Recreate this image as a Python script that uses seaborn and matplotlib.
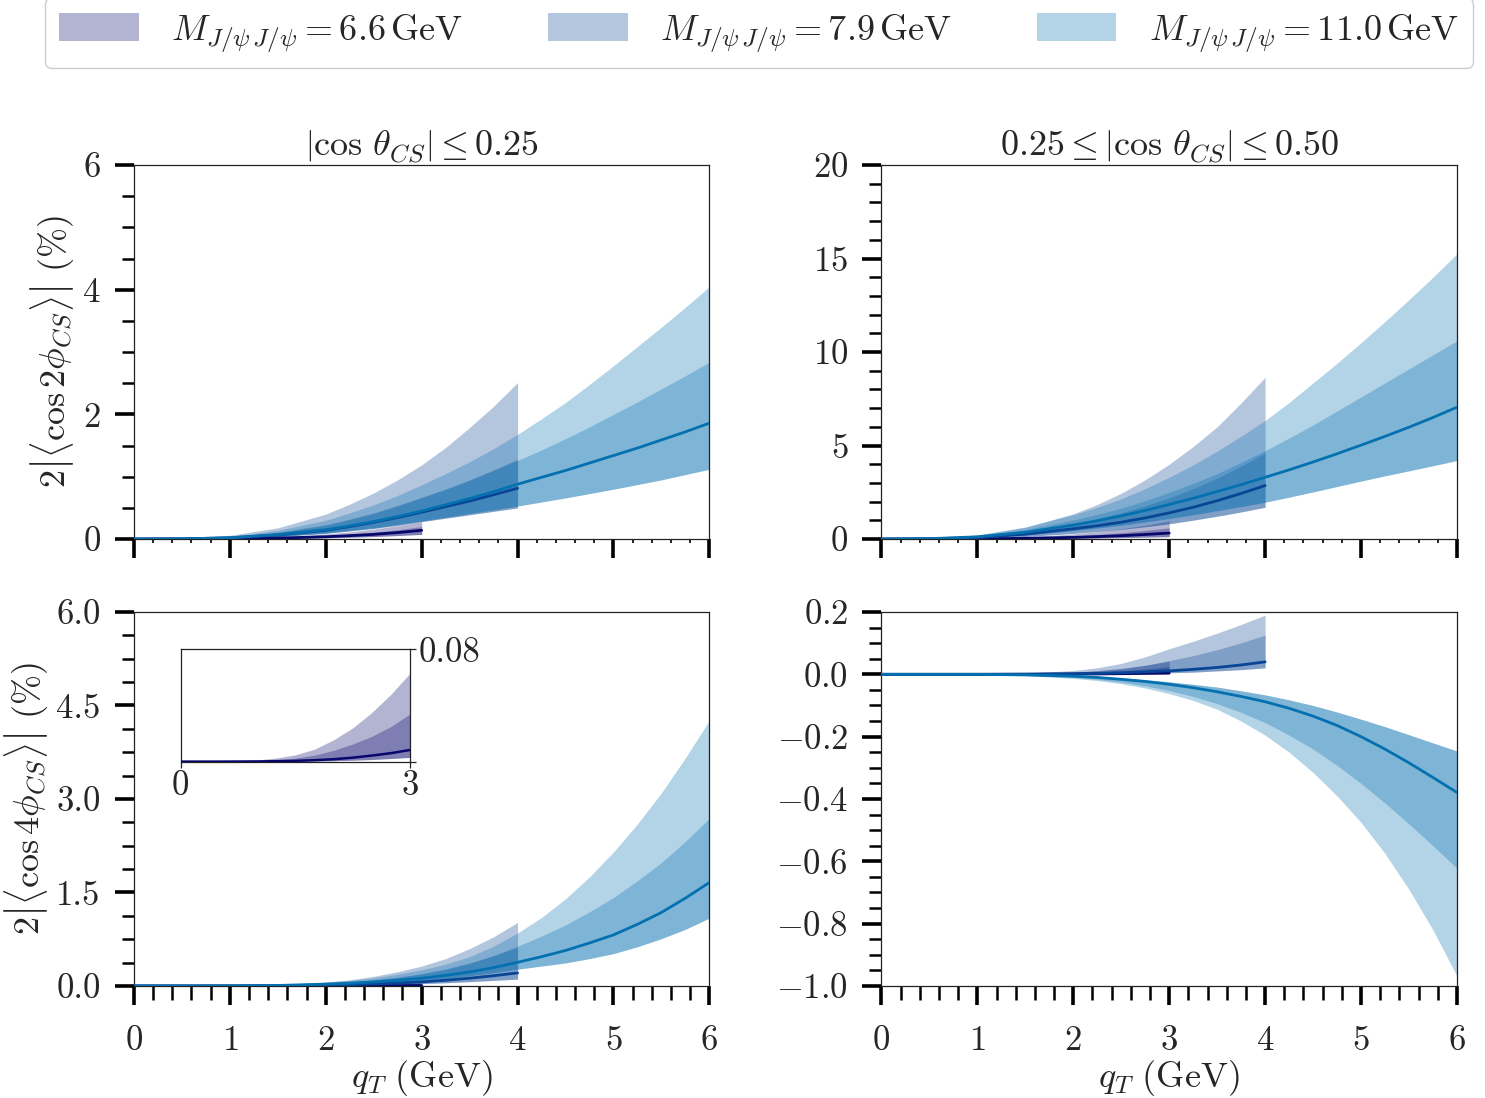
import matplotlib
matplotlib.use("Agg")
import matplotlib.pyplot as plt
from matplotlib.patches import Patch
from matplotlib.ticker import MultipleLocator, FixedLocator, FormatStrFormatter, FuncFormatter
import seaborn as sns

# ---------------------------------------------------------------------------
# q_T grids (GeV) for the three invariant masses
QT_66 = [0.0, 0.5, 1.0, 1.25, 1.5, 1.75, 2.0, 2.25, 2.5, 2.75, 3.0]
QT_79 = [0.0, 0.5, 1.0, 1.5, 2.0, 2.25, 2.5, 2.75, 3.0, 3.25, 3.5, 3.75, 4.0]
QT_110 = [0.0, 0.5, 1.0, 1.5, 2.0, 2.25, 2.5, 2.75, 3.0, 3.25, 3.5, 3.75, 4.0,
          4.25, 4.5, 4.75, 5.0, 5.25, 5.5, 5.75, 6.0]

MASS_LABELS = ["6.6", "7.9", "11.0"]

# Each table: rows = [outer low, inner low, central, inner high, outer high]  (in %)

# 2|<cos 2phi>|, |cos theta| <= 0.25
C2_LOW_66 = [
    [0, 0.0005, 0.003, 0.006, 0.009, 0.014, 0.020, 0.029, 0.040, 0.056, 0.075],
    [0, 0.0005, 0.003, 0.006, 0.009, 0.014, 0.020, 0.029, 0.040, 0.056, 0.075],
    [0, 0.001, 0.006, 0.011, 0.017, 0.026, 0.037, 0.054, 0.075, 0.104, 0.14],
    [0, 0.0015, 0.009, 0.016, 0.025, 0.038, 0.055, 0.080, 0.11, 0.15, 0.20],
    [0, 0.002, 0.012, 0.022, 0.035, 0.055, 0.080, 0.115, 0.16, 0.215, 0.28],
]
C2_LOW_79 = [
    [0, 0.002, 0.012, 0.04, 0.09, 0.13, 0.17, 0.22, 0.28, 0.335, 0.39, 0.445, 0.50],
    [0, 0.002, 0.012, 0.04, 0.09, 0.13, 0.17, 0.22, 0.28, 0.335, 0.39, 0.445, 0.50],
    [0, 0.003, 0.020, 0.065, 0.14, 0.20, 0.27, 0.345, 0.43, 0.52, 0.61, 0.71, 0.815],
    [0, 0.005, 0.035, 0.11, 0.23, 0.32, 0.42, 0.54, 0.67, 0.80, 0.95, 1.11, 1.28],
    [0, 0.008, 0.060, 0.18, 0.40, 0.56, 0.74, 0.95, 1.19, 1.47, 1.79, 2.13, 2.51],
]
C2_LOW_110 = [
    [0, 0.002, 0.013, 0.045, 0.10, 0.14, 0.18, 0.235, 0.29, 0.35, 0.41, 0.47, 0.53,
     0.595, 0.66, 0.73, 0.80, 0.875, 0.95, 1.035, 1.12],
    [0, 0.002, 0.013, 0.045, 0.10, 0.14, 0.18, 0.235, 0.29, 0.35, 0.41, 0.47, 0.53,
     0.595, 0.66, 0.73, 0.80, 0.875, 0.95, 1.035, 1.12],
    [0, 0.003, 0.020, 0.070, 0.15, 0.21, 0.28, 0.36, 0.45, 0.55, 0.65, 0.76, 0.88,
     0.99, 1.10, 1.22, 1.34, 1.46, 1.59, 1.72, 1.86],
    [0, 0.004, 0.030, 0.10, 0.22, 0.31, 0.41, 0.53, 0.66, 0.80, 0.94, 1.10, 1.26,
     1.43, 1.61, 1.80, 2.00, 2.20, 2.41, 2.62, 2.84],
    [0, 0.006, 0.040, 0.14, 0.30, 0.42, 0.55, 0.70, 0.87, 1.05, 1.24, 1.45, 1.68,
     1.93, 2.19, 2.48, 2.78, 3.09, 3.40, 3.72, 4.05],
]

# 2|<cos 2phi>|, 0.25 <= |cos theta| <= 0.50
C2_HIGH_66 = [
    [0, 0.001, 0.006, 0.011, 0.018, 0.028, 0.040, 0.056, 0.075, 0.10, 0.13],
    [0, 0.001, 0.006, 0.011, 0.018, 0.028, 0.040, 0.056, 0.075, 0.10, 0.13],
    [0, 0.002, 0.014, 0.025, 0.040, 0.062, 0.090, 0.13, 0.18, 0.245, 0.32],
    [0, 0.003, 0.025, 0.047, 0.075, 0.115, 0.17, 0.245, 0.34, 0.46, 0.60],
    [0, 0.005, 0.040, 0.075, 0.12, 0.185, 0.27, 0.39, 0.55, 0.74, 0.97],
]
C2_HIGH_79 = [
    [0, 0.005, 0.04, 0.14, 0.30, 0.40, 0.52, 0.66, 0.82, 1.01, 1.22, 1.45, 1.70],
    [0, 0.005, 0.04, 0.14, 0.30, 0.40, 0.52, 0.66, 0.82, 1.01, 1.22, 1.45, 1.70],
    [0, 0.01, 0.08, 0.26, 0.55, 0.71, 0.90, 1.13, 1.40, 1.70, 2.05, 2.44, 2.86],
    [0, 0.02, 0.12, 0.38, 0.80, 1.08, 1.40, 1.78, 2.20, 2.70, 3.25, 3.90, 4.60],
    [0, 0.03, 0.20, 0.62, 1.35, 1.85, 2.45, 3.17, 4.00, 4.95, 6.00, 7.28, 8.65],
]
C2_HIGH_110 = [
    [0, 0.01, 0.07, 0.22, 0.45, 0.59, 0.74, 0.91, 1.10, 1.30, 1.52, 1.74, 1.97,
     2.24, 2.52, 2.81, 3.10, 3.38, 3.65, 3.92, 4.20],
    [0, 0.01, 0.07, 0.22, 0.45, 0.59, 0.74, 0.91, 1.10, 1.30, 1.52, 1.74, 1.97,
     2.24, 2.52, 2.81, 3.10, 3.38, 3.65, 3.92, 4.20],
    [0, 0.02, 0.12, 0.36, 0.75, 0.98, 1.24, 1.53, 1.85, 2.18, 2.54, 2.91, 3.30,
     3.70, 4.12, 4.56, 5.02, 5.49, 5.98, 6.50, 7.05],
    [0, 0.03, 0.17, 0.50, 1.02, 1.32, 1.65, 2.05, 2.50, 2.98, 3.50, 4.10, 4.73,
     5.40, 6.10, 6.85, 7.60, 8.35, 9.10, 9.85, 10.6],
    [0, 0.04, 0.22, 0.65, 1.30, 1.70, 2.15, 2.70, 3.30, 3.97, 4.70, 5.50, 6.34,
     7.30, 8.35, 9.40, 10.5, 11.63, 12.8, 14.0, 15.25],
]

# 2|<cos 4phi>|, |cos theta| <= 0.25
C4_LOW_66 = [
    [0, 0, 0, 0.0001, 0.0002, 0.0004, 0.0006, 0.0010, 0.0015, 0.0022, 0.003],
    [0, 0, 0, 0.0001, 0.0002, 0.0004, 0.0006, 0.0010, 0.0015, 0.0022, 0.003],
    [0, 0, 0.0001, 0.0003, 0.0005, 0.0010, 0.0017, 0.0028, 0.0043, 0.0060, 0.0083],
    [0, 0, 0.0006, 0.0013, 0.0025, 0.0046, 0.0080, 0.0125, 0.018, 0.025, 0.034],
    [0, 0.0001, 0.0012, 0.0025, 0.0048, 0.0088, 0.0155, 0.024, 0.035, 0.048, 0.063],
]
C4_LOW_79 = [
    [0, 0, 0, 0.002, 0.007, 0.011, 0.018, 0.027, 0.038, 0.052, 0.070, 0.090, 0.11],
    [0, 0, 0, 0.002, 0.007, 0.011, 0.018, 0.027, 0.038, 0.052, 0.070, 0.090, 0.11],
    [0, 0, 0.001, 0.004, 0.013, 0.021, 0.032, 0.047, 0.066, 0.092, 0.125, 0.165, 0.21],
    [0, 0, 0.003, 0.012, 0.04, 0.063, 0.095, 0.14, 0.20, 0.275, 0.37, 0.485, 0.62],
    [0, 0, 0.004, 0.02, 0.064, 0.10, 0.155, 0.23, 0.32, 0.44, 0.60, 0.79, 1.02],
]
C4_LOW_110 = [
    [0, 0, 0.001, 0.006, 0.02, 0.03, 0.045, 0.065, 0.09, 0.12, 0.165, 0.215, 0.27,
     0.32, 0.37, 0.44, 0.52, 0.63, 0.76, 0.91, 1.09],
    [0, 0, 0.001, 0.006, 0.02, 0.03, 0.045, 0.065, 0.09, 0.12, 0.165, 0.215, 0.27,
     0.32, 0.37, 0.44, 0.52, 0.63, 0.76, 0.91, 1.09],
    [0, 0, 0.002, 0.009, 0.03, 0.045, 0.065, 0.09, 0.125, 0.17, 0.225, 0.295, 0.38,
     0.47, 0.57, 0.69, 0.82, 0.99, 1.18, 1.41, 1.66],
    [0, 0, 0.004, 0.016, 0.045, 0.068, 0.10, 0.14, 0.19, 0.26, 0.36, 0.49, 0.64,
     0.80, 0.98, 1.19, 1.42, 1.69, 1.98, 2.32, 2.69],
    [0, 0, 0.005, 0.022, 0.06, 0.09, 0.13, 0.19, 0.26, 0.35, 0.47, 0.64, 0.85,
     1.10, 1.40, 1.75, 2.15, 2.60, 3.10, 3.66, 4.26],
]

# 2<cos 4phi>, 0.25 <= |cos theta| <= 0.50
C4_HIGH_66 = [
    [0, 0, 0, 0, 0.0001, 0.0002, 0.0003, 0.0005, 0.0008, 0.0011, 0.0015],
    [0, 0, 0, 0, 0.0001, 0.0002, 0.0003, 0.0005, 0.0008, 0.0011, 0.0015],
    [0, 0, 0, 0.0001, 0.0002, 0.0004, 0.0007, 0.0013, 0.0020, 0.0030, 0.0040],
    [0, 0, 0.0003, 0.0006, 0.0012, 0.0024, 0.0040, 0.0070, 0.011, 0.017, 0.025],
    [0, 0, 0.0005, 0.0010, 0.0020, 0.0040, 0.0070, 0.012, 0.019, 0.029, 0.042],
]
C4_HIGH_79 = [
    [0, 0, 0, 0.0002, 0.001, 0.0015, 0.002, 0.003, 0.005, 0.007, 0.011, 0.015, 0.021],
    [0, 0, 0, 0.0002, 0.001, 0.0015, 0.002, 0.003, 0.005, 0.007, 0.011, 0.015, 0.021],
    [0, 0, 0, 0.0005, 0.002, 0.003, 0.005, 0.008, 0.011, 0.016, 0.022, 0.030, 0.040],
    [0, 0, 0.0005, 0.002, 0.006, 0.011, 0.018, 0.029, 0.044, 0.060, 0.079, 0.101, 0.126],
    [0, 0, 0.001, 0.004, 0.012, 0.021, 0.035, 0.056, 0.082, 0.106, 0.132, 0.160, 0.19],
]
C4_HIGH_110 = [
    [0, 0, -0.001, -0.004, -0.013, -0.020, -0.030, -0.044, -0.062, -0.084, -0.112,
     -0.150, -0.195, -0.250, -0.315, -0.390, -0.475, -0.575, -0.690, -0.820, -0.968],
    [0, 0, -0.0008, -0.003, -0.010, -0.016, -0.025, -0.037, -0.052, -0.071, -0.094,
     -0.122, -0.155, -0.195, -0.240, -0.292, -0.350, -0.413, -0.480, -0.550, -0.622],
    [0, 0, 0, -0.002, -0.006, -0.010, -0.016, -0.023, -0.032, -0.043, -0.056,
     -0.071, -0.088, -0.109, -0.134, -0.164, -0.200, -0.240, -0.284, -0.331, -0.379],
    [0, 0, 0, -0.001, -0.004, -0.007, -0.011, -0.017, -0.024, -0.032, -0.041,
     -0.053, -0.066, -0.082, -0.100, -0.121, -0.144, -0.168, -0.194, -0.220, -0.246],
    [0, 0, 0, -0.001, -0.004, -0.007, -0.011, -0.017, -0.024, -0.032, -0.041,
     -0.053, -0.066, -0.082, -0.100, -0.121, -0.144, -0.168, -0.194, -0.220, -0.246],
]

COLORS = ["#06066b", "#084594", "#0570b0"]
BAND_ALPHA = 0.3

TICK_FS = 25
TEXT_FS = 26

# ---------------------------------------------------------------------------
sns.set_theme(style="ticks")
plt.rcParams.update({
    "font.family": "serif",
    "font.serif": ["cmr10"],
    "mathtext.fontset": "cm",
    "axes.formatter.use_mathtext": True,
    "axes.unicode_minus": True,
    "font.size": TICK_FS,
    "axes.edgecolor": "#222222",
    "axes.linewidth": 0.9,
})

fig, axes = plt.subplots(2, 2, figsize=(14.85, 10.98), dpi=100)
fig.subplots_adjust(left=0.0902, right=0.9811, bottom=0.102, top=0.8497,
                    wspace=0.299, hspace=0.195)

panels = [
    (axes[0, 0], [C2_LOW_66, C2_LOW_79, C2_LOW_110]),
    (axes[0, 1], [C2_HIGH_66, C2_HIGH_79, C2_HIGH_110]),
    (axes[1, 0], [C4_LOW_66, C4_LOW_79, C4_LOW_110]),
    (axes[1, 1], [C4_HIGH_66, C4_HIGH_79, C4_HIGH_110]),
]
grids = [QT_66, QT_79, QT_110]


def draw_bands(ax, tables, lw=2.0):
    """Outer and inner uncertainty bands, then the central curves on top."""
    for qt, tab, col in zip(grids, tables, COLORS):
        if tab is None:
            continue
        out_lo, in_lo, mid, in_hi, out_hi = tab
        ax.fill_between(qt, out_lo, out_hi, color=col, alpha=BAND_ALPHA,
                        lw=0, zorder=1)
        ax.fill_between(qt, in_lo, in_hi, color=col, alpha=BAND_ALPHA,
                        lw=0, zorder=1)
    for qt, tab, col in zip(grids, tables, COLORS):
        if tab is None:
            continue
        sns.lineplot(x=qt, y=tab[2], color=col, lw=lw, ax=ax, zorder=3)


for ax, tables in panels:
    draw_bands(ax, tables)
    ax.set_xlim(0, 6)
    ax.xaxis.set_major_locator(MultipleLocator(1))
    ax.xaxis.set_minor_locator(MultipleLocator(0.2))
    ax.tick_params(axis="both", which="major", direction="out", length=14,
                   width=2.6, color="black", labelsize=TICK_FS)
    ax.tick_params(axis="y", which="major", pad=10)
    ax.tick_params(axis="x", which="major", pad=14)
    ax.tick_params(axis="y", which="minor", direction="out", length=9,
                   width=1.8, color="black")
    ax.tick_params(axis="x", which="minor", direction="out", length=10,
                   width=1.8, color="black")
    for sp in ax.spines.values():
        sp.set_linewidth(0.9)
        sp.set_color("#222222")

# top row: no q_T labels, short minor ticks
for ax in axes[0]:
    ax.tick_params(axis="x", labelbottom=False)
    ax.tick_params(axis="x", which="minor", length=3, width=1.2)

ax = axes[0, 0]
ax.set_ylim(0, 6)
ax.yaxis.set_major_locator(MultipleLocator(2))
ax.yaxis.set_minor_locator(MultipleLocator(0.5))
ax.set_title(r"$\left|\cos\,\theta_{CS}\right| \leq 0.25$", fontsize=TEXT_FS, pad=5)
ax.set_ylabel(r"$2\left|\langle\cos 2\phi_{CS}\rangle\right|\ (\%)$", fontsize=TEXT_FS)

ax = axes[0, 1]
ax.set_ylim(0, 20)
ax.yaxis.set_major_locator(MultipleLocator(5))
ax.yaxis.set_minor_locator(MultipleLocator(1))
ax.set_title(r"$0.25 \leq \left|\cos\,\theta_{CS}\right| \leq 0.50$", fontsize=TEXT_FS, pad=5)

ax = axes[1, 0]
ax.set_ylim(0, 6)
ax.yaxis.set_major_locator(MultipleLocator(1.5))
ax.yaxis.set_minor_locator(MultipleLocator(0.375))
ax.yaxis.set_major_formatter(FormatStrFormatter("%.1f"))
ax.set_ylabel(r"$2\left|\langle\cos 4\phi_{CS}\rangle\right|\ (\%)$", fontsize=TEXT_FS)
ax.set_xlabel(r"$q_T\ (\mathrm{GeV})$", fontsize=TEXT_FS, labelpad=1)

ax = axes[1, 1]
ax.set_ylim(-1.0, 0.2)
ax.yaxis.set_major_locator(MultipleLocator(0.2))
ax.yaxis.set_minor_locator(MultipleLocator(0.05))
ax.yaxis.set_major_formatter(FuncFormatter(
    lambda v, p: (r"$-%.1f$" % abs(v)) if v < -1e-9 else r"$%.1f$" % abs(v)))
ax.set_xlabel(r"$q_T\ (\mathrm{GeV})$", fontsize=TEXT_FS, labelpad=1)

# inset: lowest-mass curve of the cos 4phi panel on its own scale
ins = axes[1, 0].inset_axes([0.081, 0.600, 0.399, 0.3005])
draw_bands(ins, [C4_LOW_66, None, None], lw=1.8)
ins.set_xlim(0, 3)
ins.set_ylim(0, 0.08)
ins.xaxis.set_major_locator(FixedLocator([0, 3]))
ins.yaxis.set_major_locator(FixedLocator([0, 0.08]))
ins.set_yticklabels(["", "0.08"])
ins.set_xticklabels(["0", "3"])
ins.yaxis.tick_right()
ins.tick_params(axis="both", which="major", direction="out", length=4,
                width=0.9, labelsize=TICK_FS, pad=2)
ins.tick_params(which="minor", length=0)
for sp in ins.spines.values():
    sp.set_linewidth(0.9)
    sp.set_color("#222222")

# legend across the top
handles = [Patch(facecolor=c, alpha=BAND_ALPHA, edgecolor="none") for c in COLORS]
labels = [r"$M_{J/\psi\,J/\psi} = %s\,\mathrm{GeV}$" % m for m in MASS_LABELS]
fig.legend(handles, labels, loc="lower left", bbox_to_anchor=(0.0303, 0.938),
           ncol=3, fontsize=TEXT_FS, frameon=True, fancybox=True,
           edgecolor="#cccccc", framealpha=1.0, handlelength=2.2,
           handleheight=0.8, handletextpad=0.9, columnspacing=2.35,
           borderaxespad=0.0)

fig.savefig("out.png", dpi=100)
